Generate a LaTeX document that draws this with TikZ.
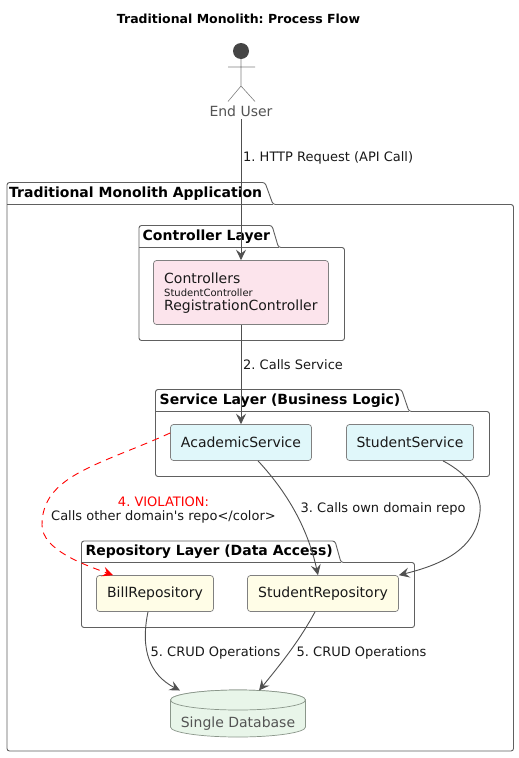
\documentclass[tikz,border=0pt]{standalone}
\usepackage{fontspec}
\setmainfont{DejaVu Sans}
\newfontfamily\plainface{DejaVu Sans}
\usetikzlibrary{arrows.meta,shapes.geometric}
\frenchspacing
\newcommand{\fsz}[1]{\fontsize{#1}{#1}\selectfont}
\definecolor{edgeC}{HTML}{505050}
\definecolor{pkgC}{HTML}{606060}
\definecolor{compC}{HTML}{808080}
\definecolor{dbC}{HTML}{8A968A}
\tikzset{
  x=1pt,y=-1pt,
  pkg/.style={draw=pkgC,line width=0.9pt,rounded corners=2.5pt},
  pkgtitle/.style={anchor=west,inner sep=0pt,font=\fsz{14}\bfseries,text=black},
  comp/.style={draw=compC,line width=0.7pt,rounded corners=3pt,font=\fsz{14},text=black!90,inner sep=0pt},
  conn/.style={draw=edgeC,line width=0.9pt,-{Stealth[length=10.5pt,width=10pt,inset=4pt]}},
  viol/.style={draw=red,line width=0.9pt,dash pattern=on 7pt off 5.5pt,-{Stealth[length=10.5pt,width=10pt,inset=4pt]}},
  lbl/.style={anchor=west,inner sep=0pt,font=\fsz{13},text=black!90},
}
\newcommand{\pkgshape}[7]{% l r tabtop bodytop bottom tabright slopeend
  \draw[pkg] (#1,#4) -- (#1,#3) -- (#6,#3) -- (#7,#4) -- (#2,#4) -- (#2,#5) -- (#1,#5) -- cycle;
  \draw[draw=pkgC,line width=0.9pt] (#1,#4) -- (#7,#4);
}
\begin{document}
\begin{tikzpicture}
\useasboundingbox (0,0) rectangle (519,758);
\fill[white] (0,0) rectangle (519,758);
\node[inner sep=0pt,font=\fsz{12.5}\bfseries] (title) at (238.5,18.5) {Traditional Monolith: Process Flow};

% packages
\pkgshape{7}{513.5}{182.5}{204.5}{751}{265}{273}
\node[pkgtitle] (papp) at (9,193.5) {Traditional Monolith Application};
\pkgshape{139}{344.5}{225.5}{247.5}{340.5}{272}{278.5}
\node[pkgtitle] (pctl) at (142.5,236.5) {Controller Layer};
\pkgshape{155.5}{489.5}{389.5}{411.5}{476.5}{401.5}{409}
\node[pkgtitle] (psvc) at (159.5,400.5) {Service Layer (Business Logic)};
\pkgshape{81.5}{414.5}{541}{562.5}{627.5}{335}{341}
\node[pkgtitle] (prep) at (85.5,552) {Repository Layer (Data Access)};

% actor
\fill[black!73] (241,51) circle (8) coordinate (head);
\draw[black!50,line width=0.6pt] (241,59) -- (241,86) (228,67) -- (255,67) (228,101.5) -- (241,86) -- (255,101.5);
\node[inner sep=0pt,font=\fsz{14},text=black!67] (user) at (241,111) {End User};
\coordinate (userout) at (241,119);

% components
\node[comp,fill={rgb,255:red,252;green,228;blue,236},minimum width=175pt,minimum height=64pt] (ctrl) at (241,292.5) {};
\node[anchor=west,inner sep=0pt,font=\fsz{14},text=black!90] (ctrlA) at (164,278) {Controllers};
\node[anchor=west,inner sep=0pt,font=\fsz{10},text=black!90] (ctrlB) at (164,292.5) {StudentController};
\node[anchor=west,inner sep=0pt,font=\fsz{14},text=black!90] (ctrlC) at (164,306.5) {RegistrationController};

\node[comp,fill={rgb,255:red,224;green,247;blue,250},minimum width=141pt,minimum height=36pt] (acad) at (241,442.5) {AcademicService};
\node[comp,fill={rgb,255:red,224;green,247;blue,250},minimum width=127pt,minimum height=36pt] (stud) at (410,442.5) {StudentService};
\node[comp,fill={rgb,255:red,255;green,253;blue,231},minimum width=117pt,minimum height=36pt] (bill) at (155,593.5) {BillRepository};
\node[comp,fill={rgb,255:red,255;green,253;blue,231},minimum width=151pt,minimum height=36pt] (srepo) at (323,593.5) {StudentRepository};

% database
\path[draw=dbC,fill={rgb,255:red,232;green,245;blue,233},line width=0.7pt]
  (170.5,700) arc[start angle=180,end angle=360,x radius=67.5,y radius=10] -- (305.5,727)
  arc[start angle=0,end angle=180,x radius=67.5,y radius=10] -- cycle;
\path[draw=dbC,fill={rgb,255:red,232;green,245;blue,233},line width=0.7pt]
  (238,700) ellipse[x radius=67.5,y radius=10];
\node[inner sep=0pt,font=\fsz{14},text=black!67] (db) at (238,723.5) {Single Database};
\coordinate (dbbill) at (180,690.5);
\coordinate (dbstud) at (259,690.5);

% connectors
\draw[conn] (userout) -- (ctrl.north);
\draw[conn] (ctrl.south) -- (acad.north);
\draw[conn] ([xshift=17pt]acad.south) .. controls (285,490) and (307,525) .. ([xshift=-5pt]srepo.north);
\draw[conn] ([xshift=33pt]stud.south) .. controls (470,475) and (482,495) .. (480,512) .. controls (476,550) and (440,565) .. (srepo.north east);
\draw[viol] ([yshift=9.5pt]acad.west) .. controls (100,465) and (42,475) .. (42,525) .. controls (42,550) and (85,565) .. ([xshift=-42pt]bill.north);
\draw[conn] ([xshift=-7pt]bill.south) .. controls (140,650) and (150,675) .. (dbbill);
\draw[conn] ([xshift=-8pt]srepo.south) .. controls (300,640) and (280,665) .. (dbstud);

% labels
\node[lbl] (l1) at (243,158) {1. HTTP Request (API Call)};
\node[lbl] (l2) at (243,365) {2. Calls Service};
\node[lbl] (l3) at (300.5,509) {3. Calls own domain repo};
\node[anchor=center,inner sep=0pt,font=\fsz{13},text=red] (l4a) at (163.5,501.5) {4. VIOLATION:};
\node[lbl] (l4b) at (51,517) {\plainface Calls other domain's repo</color>};
\node[lbl] (l5a) at (150.5,652.5) {5. CRUD Operations};
\node[lbl] (l5b) at (296.5,652.5) {5. CRUD Operations};
\end{tikzpicture}
\end{document}
